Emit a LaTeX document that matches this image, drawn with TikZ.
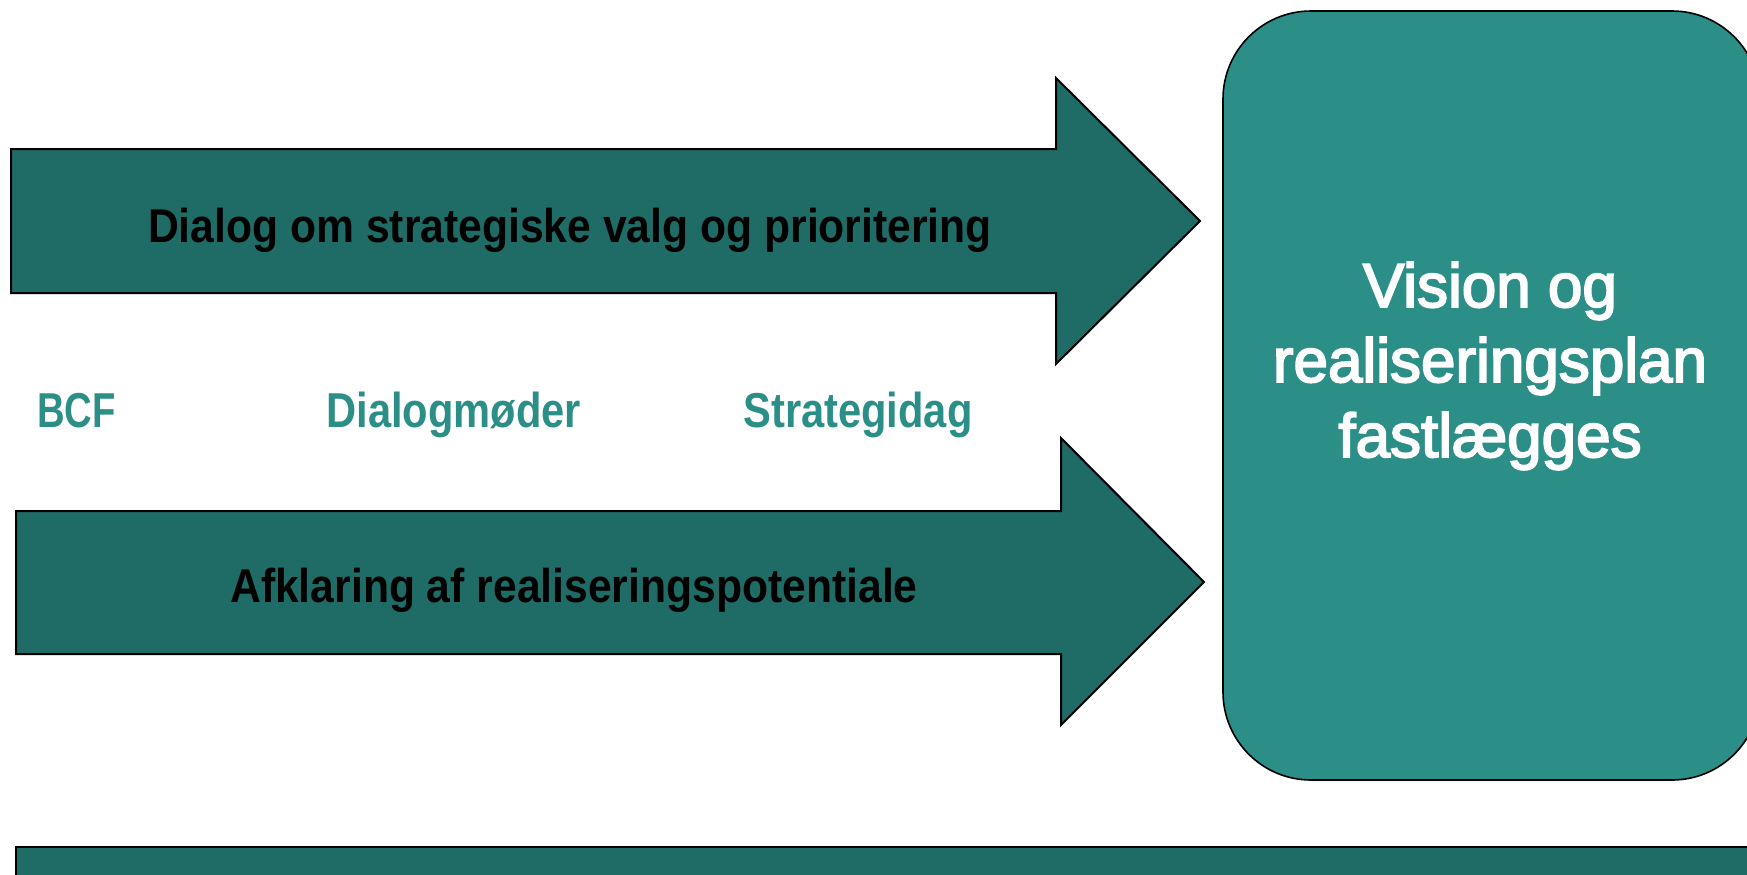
\documentclass[tikz,border=0pt]{standalone}
\usepackage{fontspec}
\setmainfont{Liberation Sans}
\newfontfamily\arrowfont[FakeStretch=0.9]{Liberation Sans}
\newfontfamily\labelfont[FakeStretch=0.85]{Liberation Sans}
\newfontfamily\bcffont[FakeStretch=0.78]{Liberation Sans}
\newfontfamily\boxfont[FakeBold=3]{Liberation Sans}
\definecolor{darkteal}{HTML}{1F6B65}
\definecolor{lightteal}{HTML}{2B8E87}
\begin{document}
\begin{tikzpicture}[x=0.5pt,y=-0.5pt,
  arrowshape/.style={draw=black,line width=1pt,fill=darkteal,line join=miter},
  arrowtext/.style={inner sep=0pt,anchor=base,font=\arrowfont\bfseries\fontsize{23.7}{30}\selectfont,text=black},
  steplabel/.style={inner sep=0pt,anchor=base west,font=\labelfont\bfseries\fontsize{24.5}{30}\selectfont,text=lightteal},
  goalbox/.style={draw=black,line width=0.8pt,fill=lightteal,rounded corners=44pt}]
\useasboundingbox (0,0) rectangle (1747,874);
\clip (0,0) rectangle (1747,874);
% top arrow
\draw[arrowshape] (11,149) -- (1056,149) -- (1056,78) -- (1200,221) -- (1056,364) -- (1056,293) -- (11,293) -- cycle;
\node[arrowtext] (dialog) at (570,242) {Dialog om strategiske valg og prioritering};
% bottom arrow
\draw[arrowshape] (16,511) -- (1061,511) -- (1061,438) -- (1204,582) -- (1061,725) -- (1061,654) -- (16,654) -- cycle;
\node[arrowtext] (afklaring) at (574,602) {Afklaring af realiseringspotentiale};
% labels
\node[steplabel,font=\bcffont\bfseries\fontsize{24.5}{30}\selectfont] (bcf) at (37,427) {BCF};
\node[steplabel] (dialogmoder) at (326,427) {Dialogmøder};
\node[steplabel] (strategidag) at (743,427) {Strategidag};
% goal box
\draw[goalbox] (1223,11) rectangle (1760,780);
\node[inner sep=0pt,align=center,text=white,font=\boxfont\fontsize{31}{37.5}\selectfont] (vision) at (1490,366) {Vision og\\realiseringsplan\\fastlægges};
% bottom bar
\draw[arrowshape] (16,847) rectangle (1770,900);
\end{tikzpicture}
\end{document}
